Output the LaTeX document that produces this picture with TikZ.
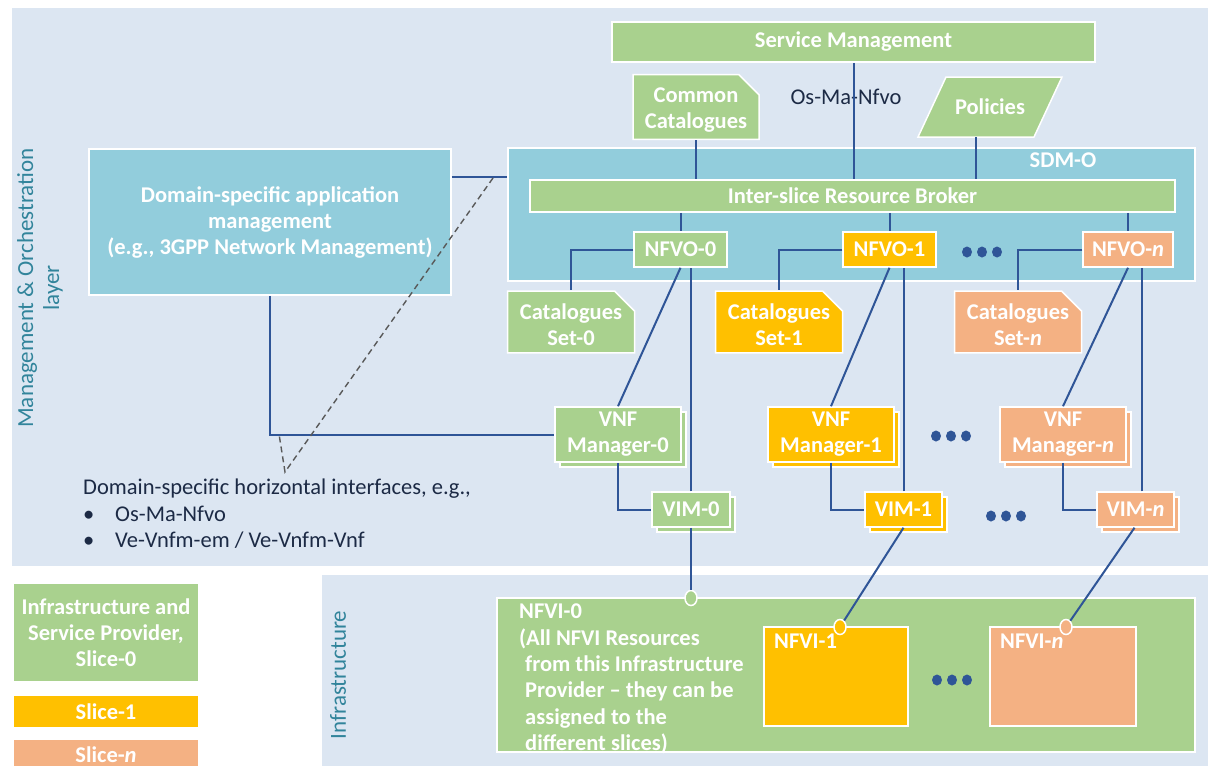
\documentclass[tikz,border=0pt]{standalone}
\usepackage{fontspec}
\setmainfont{Carlito}
\usetikzlibrary{shapes.geometric,shapes.misc,shadows,calc}

\definecolor{panel}{HTML}{DCE6F2}
\definecolor{sgreen}{HTML}{A9D18E}
\definecolor{syellow}{HTML}{FFC000}
\definecolor{ssalmon}{HTML}{F4B183}
\definecolor{steal}{HTML}{92CDDC}
\definecolor{linkblue}{HTML}{2F5597}
\definecolor{labelteal}{HTML}{31849B}
\definecolor{navy}{HTML}{1C2A45}
\definecolor{dashgray}{HTML}{595959}

% the text of a snipped-corner shape sits a little low, without changing its size
\newcommand{\docline}[1]{\raisebox{-3pt}[\height][\depth]{#1}}

\begin{document}
\begin{tikzpicture}[x=1pt,y=-1pt,
  sbox/.style={draw=white, line width=1.5pt, text=white, align=center, inner sep=0pt,
    font=\bfseries\fontsize{22.5}{26}\selectfont},
  sdoc/.style={chamfered rectangle, chamfered rectangle corners=north east,
    chamfered rectangle sep=10pt},
  sstack/.style={copy shadow={fill=#1, draw=white, line width=1.5pt,
    shadow xshift=5pt, shadow yshift=-5pt}},
  slink/.style={draw=linkblue, line width=2pt},
  sdash/.style={draw=dashgray, line width=1.4pt, dash pattern=on 6pt off 4pt},
  sdot/.style={ellipse, fill=linkblue, inner sep=0pt, minimum width=10pt, minimum height=11pt},
  sport/.style={ellipse, draw=white, line width=1.5pt, fill=#1, inner sep=0pt,
    minimum width=12pt, minimum height=15pt},
  stxt/.style={text=navy, font=\fontsize{22.5}{26.5}\selectfont, inner sep=0pt},
  sside/.style={text=labelteal, font=\fontsize{23}{26}\selectfont, rotate=90,
    align=center, inner sep=0pt},
  stitle/.style={text=white, font=\bfseries\fontsize{22.5}{26.3}\selectfont, inner sep=0pt},
]
% canvas and the two layer panels
\fill[white] (0,0) rectangle (1208,766);
\useasboundingbox (0,0) rectangle (1208,766);
\fill[panel] (12,8) rectangle (1208,566);
\fill[panel] (322,575) rectangle (1208,766);

% layer labels
\node[sside] (molabel) at (40,288) {Management \& Orchestration\\layer};
\node[sside] (inflabel) at (338,675) {Infrastructure};

% SDM-O container and broker
\node[sbox, fill=steal, minimum width=687pt, minimum height=133pt] (sdmo) at (851.5,214.5) {};
\node[stitle] (sdmolabel) at (1063,160) {SDM-O};
\node[sbox, fill=sgreen, minimum width=645pt, minimum height=32pt] (irb) at (852.5,196) {Inter-slice Resource Broker};

% top row
\node[sbox, fill=sgreen, minimum width=483pt, minimum height=40pt] (sm) at (853.5,42) {Service Management};
\node[sbox, fill=sgreen, sdoc, minimum width=126pt, minimum height=64pt] (cc) at (696,107)
  {\docline{Common}\\\docline{Catalogues}};
\filldraw[fill=sgreen, draw=white, line width=1.5pt] (918,137) -- (946,77) -- (1062,77) -- (1034,137) -- cycle;
\node[stitle] (pol) at (990,107) {Policies};
\coordinate (polbase) at (976,137);

% domain-specific management
\node[sbox, fill=steal, minimum width=362pt, minimum height=146pt] (ds) at (270,222)
  {Domain-specific application\\management\\(e.g., 3GPP Network Management)};

% connectors of the orchestrator
\draw[slink] (cc.south) -- (cc.south |- irb.north);
\draw[slink] (polbase) -- (polbase |- irb.north);
\draw[slink] ($(ds.north east)+(0,29)$) -- ($(sdmo.north west)+(0,30)$);

% NFVOs
\node[sbox, fill=sgreen, minimum width=93pt, minimum height=35pt] (nfvo0) at (680.5,249.5) {NFVO-0};
\node[sbox, fill=syellow, minimum width=93pt, minimum height=35pt] (nfvo1) at (889.5,249.5) {NFVO-1};
\node[sbox, fill=ssalmon, minimum width=90pt, minimum height=35pt] (nfvon) at (1128,249.5) {NFVO-\textit{n}};

% catalogue sets
\node[sbox, fill=sgreen, sdoc, minimum width=127pt, minimum height=58pt] (cs0) at (571,322)
  {\docline{Catalogues}\\\docline{Set-0}};
\node[sbox, fill=syellow, sdoc, minimum width=127pt, minimum height=58pt] (cs1) at (779,322)
  {\docline{Catalogues}\\\docline{Set-1}};
\node[sbox, fill=ssalmon, sdoc, minimum width=127pt, minimum height=58pt] (csn) at (1018,322)
  {\docline{Catalogues}\\\docline{Set-\textit{n}}};

% VNF managers
\node[sbox, fill=sgreen, sstack=sgreen, minimum width=126pt, minimum height=55pt] (vnfm0) at (618,434.5) {VNF\\Manager-0};
\node[sbox, fill=syellow, sstack=syellow, minimum width=126pt, minimum height=55pt] (vnfm1) at (831,434.5) {VNF\\Manager-1};
\node[sbox, fill=ssalmon, sstack=ssalmon, minimum width=126pt, minimum height=55pt] (vnfmn) at (1063,434.5) {VNF\\Manager-\textit{n}};

% VIMs
\node[sbox, fill=sgreen, sstack=sgreen, minimum width=78pt, minimum height=35pt] (vim0) at (691,509.5) {VIM-0};
\node[sbox, fill=syellow, sstack=syellow, minimum width=77pt, minimum height=35pt] (vim1) at (903.5,509.5) {VIM-1};
\node[sbox, fill=ssalmon, sstack=ssalmon, minimum width=77pt, minimum height=35pt] (vimn) at (1135.5,509.5) {VIM-\textit{n}};

% NFVI
\node[sbox, fill=sgreen, minimum width=698pt, minimum height=154pt] (nfvi0) at (846,675) {};
\node[stitle, anchor=north west, align=left] (nfvi0text) at (519,604)
  {NFVI-0\\(All NFVI Resources\\\hspace*{6pt}from this Infrastructure\\\hspace*{6pt}Provider -- they can be\\\hspace*{6pt}assigned to the\\\hspace*{6pt}different slices)};
\node[sbox, fill=syellow, minimum width=144pt, minimum height=99pt] (nfvi1) at (836,676.5) {};
\node[sbox, fill=ssalmon, minimum width=146pt, minimum height=99pt] (nfvin) at (1063,676.5) {};
\node[stitle, anchor=base west] (nfvi1text) at (774,648) {NFVI-1};
\node[stitle, anchor=base west] (nfvintext) at (1000,648) {NFVI-\textit{n}};

% slice-internal connectors
\foreach \s in {0,1,n}{
  \draw[slink] (irb.south -| nfvo\s.north) -- (nfvo\s.north);
  \draw[slink] (nfvo\s.west) -| (cs\s.north);
  \draw[slink] (nfvo\s.south) -- (vnfm\s.north);
  \draw[slink] (vnfm\s.south) |- (vim\s.west);
}
\draw[slink] (vim0.north) -- (vim0.north |- nfvo0.south);
\draw[slink] (vim1.north) -- (vim1.north |- nfvo1.south);
\draw[slink] ([xshift=6pt]vimn.north) -- ([xshift=6pt]vimn.north |- nfvon.south);

% attachment points on the infrastructure
\node[sport=sgreen] (p0) at (691,598) {};
\node[sport=syellow] (p1) at (840,627) {};
\node[sport=ssalmon] (pn) at (1066,627) {};
\draw[slink] (vim0.south) -- (p0);
\draw[slink] (vim1.south) -- (p1);
\draw[slink] ([xshift=-1pt]vimn.south) -- (pn);

% domain-specific horizontal interface
\draw[slink] (ds.south) |- (vnfm0.west);
\coordinate (ifa) at (493,178);
\coordinate (ifb) at (279,434);
\coordinate (iftip) at (285,472);
\draw[sdash] (ifa) -- (iftip) -- (ifb);
\node[stxt, anchor=north west, align=left] (iftext) at (83,479)
  {Domain-specific horizontal interfaces, e.g.,\\
   \makebox[32pt][l]{\textbullet}Os-Ma-Nfvo\\
   \makebox[32pt][l]{\textbullet}Ve-Vnfm-em / Ve-Vnfm-Vnf};
\node[stxt] (osma) at (846,97) {Os-Ma-Nfvo};
\draw[slink] (sm.south) -- (sm.south |- irb.north);

% ellipses between slices
\foreach \x [count=\i] in {967,982,997}  \node[sdot] (da\i) at (\x,252) {};
\foreach \x [count=\i] in {936,951,966}  \node[sdot] (db\i) at (\x,436) {};
\foreach \x [count=\i] in {991,1006,1021} \node[sdot] (dc\i) at (\x,516) {};
\foreach \x [count=\i] in {937,952,967}  \node[sdot] (dd\i) at (\x,680) {};

% legend
\node[sbox, fill=sgreen, minimum width=186pt, minimum height=99pt] (leg0) at (106,632.5)
  {Infrastructure and\\Service Provider,\\Slice-0};
\node[sbox, fill=syellow, minimum width=186pt, minimum height=33pt] (leg1) at (106,711.5) {Slice-1};
\node[sbox, fill=ssalmon, minimum width=186pt, minimum height=31pt] (legn) at (106,754.5) {Slice-\textit{n}};
\end{tikzpicture}
\end{document}
